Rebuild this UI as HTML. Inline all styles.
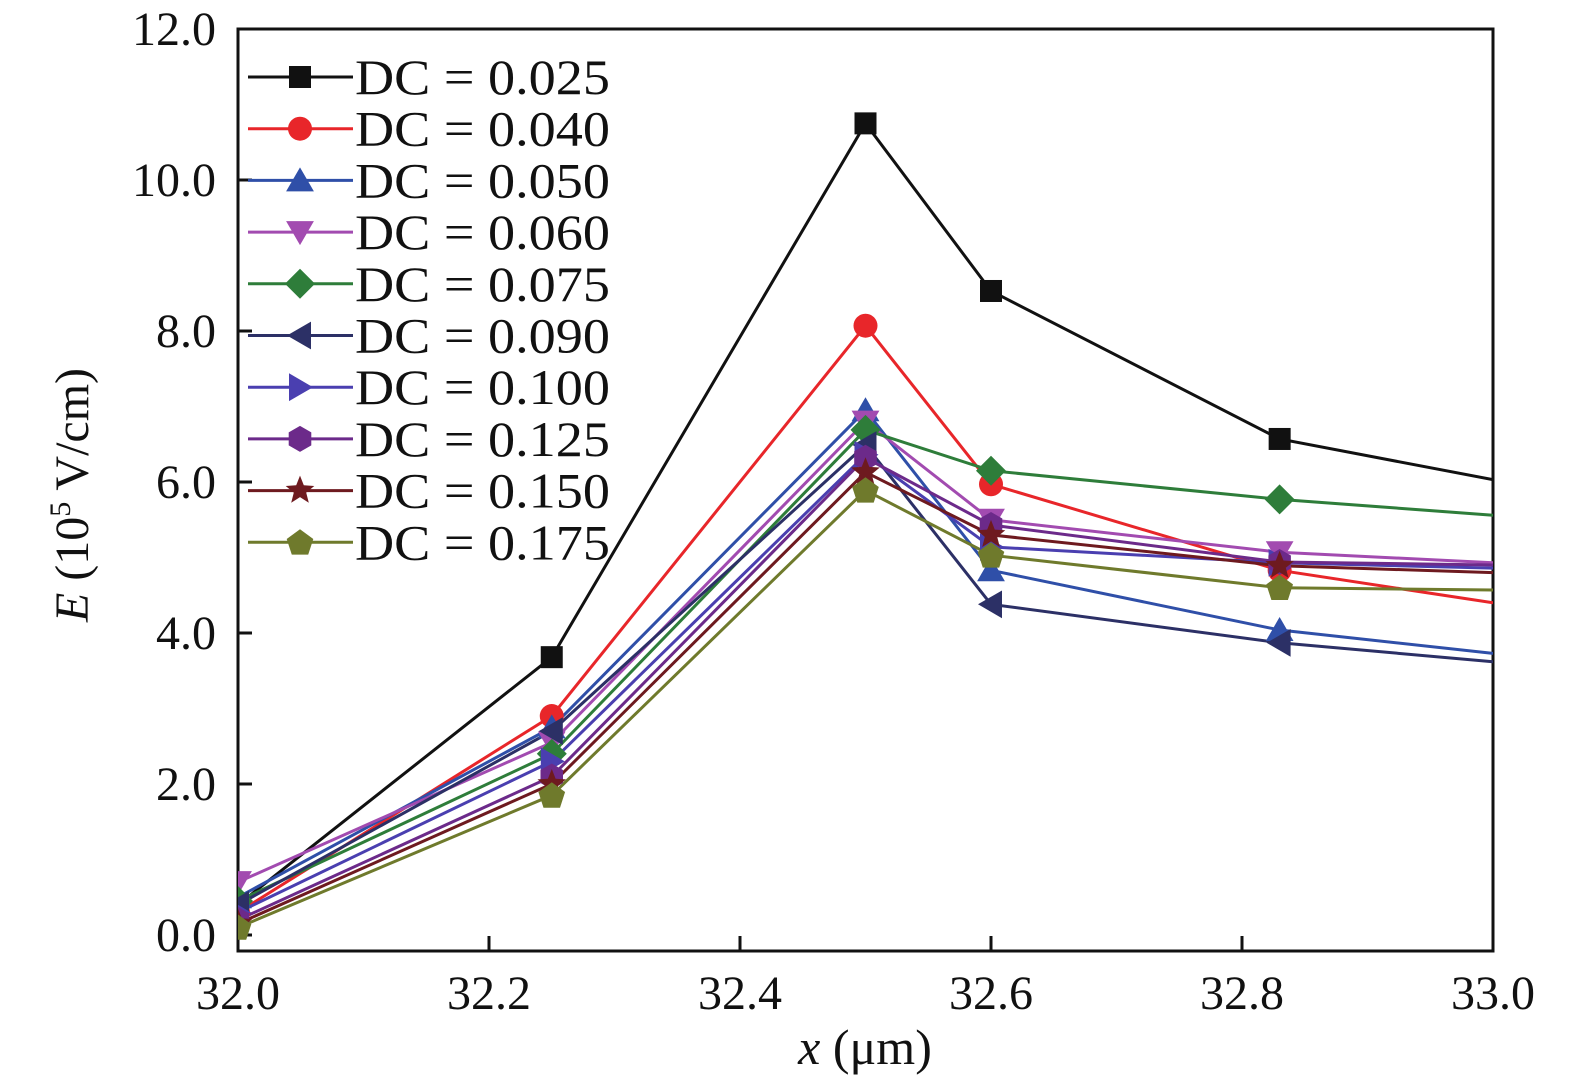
<!DOCTYPE html>
<html><head><meta charset="utf-8"><style>
html,body{margin:0;padding:0;background:#fff;}
svg{display:block;font-family:"Liberation Serif",serif;}
</style></head><body>
<svg id="chart" width="1575" height="1091" viewBox="0 0 1575 1091">
<defs><clipPath id="clip"><rect x="238" y="29" width="1255" height="922"/></clipPath></defs>
<g id="plot"></g>
<g id="data" clip-path="url(#clip)"></g>
</svg>
<script>
const xValues = [32.0, 32.25, 32.5, 32.6, 32.83, 33.0];
const seriesLabels = ["DC = 0.025","DC = 0.040","DC = 0.050","DC = 0.060","DC = 0.075","DC = 0.090","DC = 0.100","DC = 0.125","DC = 0.150","DC = 0.175"];
const s025 = [0.40, 3.68, 10.75, 8.53, 6.57, 6.03];
const s040 = [0.30, 2.90, 8.07, 5.97, 4.83, 4.40];
const s050 = [0.50, 2.75, 6.95, 4.83, 4.04, 3.73];
const s060 = [0.70, 2.55, 6.80, 5.50, 5.07, 4.93];
const s075 = [0.45, 2.40, 6.69, 6.15, 5.77, 5.56];
const s090 = [0.40, 2.70, 6.49, 4.38, 3.87, 3.62];
const s100 = [0.30, 2.30, 6.36, 5.14, 4.93, 4.86];
const s125 = [0.20, 2.10, 6.32, 5.43, 4.94, 4.90];
const s150 = [0.15, 2.00, 6.13, 5.30, 4.89, 4.80];
const s175 = [0.10, 1.85, 5.89, 5.03, 4.60, 4.57];
const xTicks = ["32.0","32.2","32.4","32.6","32.8","33.0"];
const yTicks = ["0.0","2.0","4.0","6.0","8.0","10.0","12.0"];

const series=[s025,s040,s050,s060,s075,s090,s100,s125,s150,s175];
const colors=["#111","#e8262a","#2f4fa8","#a24bb0","#2e7d3a","#2c3066","#4a3fb0","#6c2a8a","#6e1a1f","#6f7a2c"];
const shapes=["square","circle","up","down","diamond","left","right","hex","star","pent"];
const L=238,R=1493,T=29,B=951;
const xs=v=>L+(v-32)*1255;
const ys=v=>935-75.5*v;
const NS="http://www.w3.org/2000/svg";
const g=document.getElementById('plot');
const dg=document.getElementById('data');
function mk(t,a,p){const e=document.createElementNS(NS,t);for(const k in a)e.setAttribute(k,a[k]);(p||g).appendChild(e);return e;}
function poly(n,r,rot,cx,cy,inner){let pts=[];const m=inner?n*2:n;for(let i=0;i<m;i++){const a=rot+i*2*Math.PI/m;const rr=inner&&i%2?inner:r;pts.push((cx+rr*Math.sin(a)).toFixed(1)+","+(cy-rr*Math.cos(a)).toFixed(1));}return pts.join(" ");}
function marker(shape,cx,cy,c,name,p){
 let e;const P=p||g;
 if(shape=="square")e=mk('rect',{x:cx-11,y:cy-11,width:22,height:22,fill:c},P);
 else if(shape=="circle")e=mk('circle',{cx:cx,cy:cy,r:12,fill:c},P);
 else if(shape=="up")e=mk('polygon',{points:poly(3,16,0,cx,cy+3),fill:c},P);
 else if(shape=="down")e=mk('polygon',{points:poly(3,16,Math.PI,cx,cy-3),fill:c},P);
 else if(shape=="left")e=mk('polygon',{points:poly(3,16,-Math.PI/2,cx+3,cy),fill:c},P);
 else if(shape=="right")e=mk('polygon',{points:poly(3,16,Math.PI/2,cx-3,cy),fill:c},P);
 else if(shape=="diamond")e=mk('polygon',{points:poly(4,15,0,cx,cy),fill:c},P);
 else if(shape=="hex")e=mk('polygon',{points:poly(6,13,0,cx,cy),fill:c},P);
 else if(shape=="star")e=mk('polygon',{points:poly(5,15,0,cx,cy,6.5),fill:c},P);
 else e=mk('polygon',{points:poly(5,14,0,cx,cy+1),fill:c},P);
 
 
}
// series (clipped)
series.forEach((s,k)=>{
 const pts=s.map((v,i)=>xs(xValues[i]).toFixed(1)+","+ys(v).toFixed(1)).join(" ");
 const pl=mk('polyline',{points:pts,fill:'none',stroke:colors[k],'stroke-width':3},dg);
 
 
});
series.forEach((s,k)=>{s.forEach((v,i)=>{if(xValues[i]<33)marker(shapes[k],xs(xValues[i]),ys(v),colors[k],'point-marker',dg);});});
// axes frame
const frame=mk('rect',{x:L,y:T,width:R-L,height:B-T,fill:'none',stroke:'#111','stroke-width':3});


yTicks.forEach((t,i)=>{const v=parseFloat(t),y=ys(v);
 const tk=mk('line',{x1:L,x2:L+14,y1:y,y2:y,stroke:'#111','stroke-width':3});
 
 
 const tx=mk('text',{x:216,y:y+16,'text-anchor':'end','font-size':48,fill:'#111'});tx.textContent=t;
 
 
});
xTicks.forEach(t=>{const x=xs(parseFloat(t));
 const tk=mk('line',{x1:x,x2:x,y1:B,y2:B-15,stroke:'#111','stroke-width':3});
 
 
 const tx=mk('text',{x:x,y:1009,'text-anchor':'middle','font-size':48,fill:'#111'});tx.textContent=t;
 
 
});
// legend
seriesLabels.forEach((lab,k)=>{const y=77+k*51.7;
 const ln=mk('line',{x1:248,x2:353,y1:y,y2:y,stroke:colors[k],'stroke-width':3});
 
 
 marker(shapes[k],300,y,colors[k],'legend-marker');
 const tx=mk('text',{x:355,y:y+17,'font-size':50,fill:'#111',textLength:255,lengthAdjust:'spacingAndGlyphs'});tx.textContent=lab;
 
 
});
// axis titles
const xt=mk('text',{x:865,y:1064,'text-anchor':'middle','font-size':50,fill:'#111'});
xt.innerHTML='<tspan font-style="italic">x</tspan> (μm)';


const yt=mk('text',{transform:'translate(88,495) rotate(-90)','text-anchor':'middle','font-size':48,fill:'#111'});
yt.innerHTML='<tspan font-style="italic">E</tspan> (10<tspan font-size="30" dy="-18">5</tspan><tspan dy="18"> V/cm)</tspan>';


</script>
</body></html>
